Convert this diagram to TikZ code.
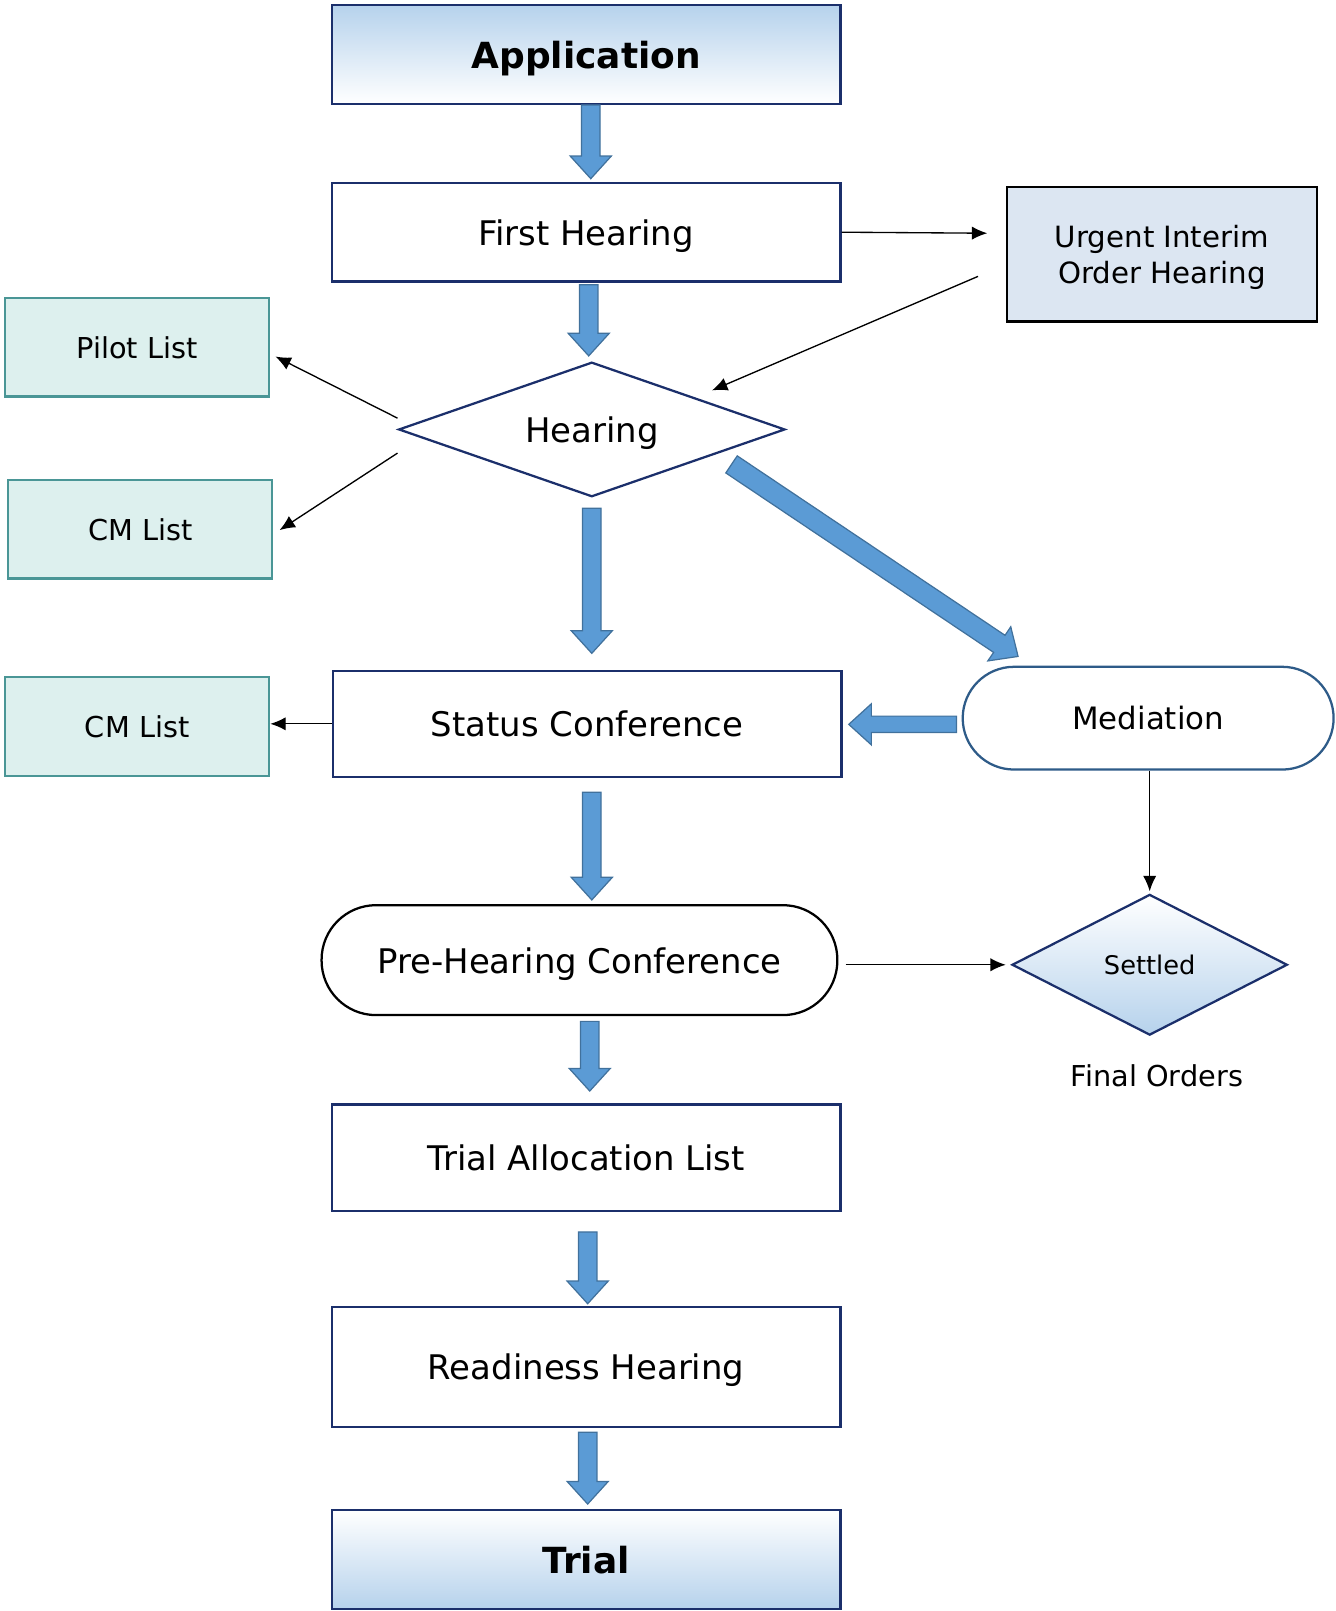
\documentclass[tikz,border=0pt]{standalone}
\usepackage{fontspec}
\setmainfont{DejaVu Sans}
\usetikzlibrary{shapes.geometric,arrows.meta,calc}
\definecolor{navyb}{HTML}{1B2F6B}
\definecolor{tealf}{HTML}{DDF0EE}
\definecolor{tealb}{HTML}{4A9696}
\definecolor{urgf}{HTML}{DCE6F2}
\definecolor{medb}{HTML}{2E5B88}
\definecolor{baf}{HTML}{5B9BD5}
\definecolor{bab}{HTML}{41719C}
\definecolor{gradb}{HTML}{B6D2EC}
\newcommand{\fs}[1]{\fontsize{#1pt}{\dimexpr #1pt*12/10\relax}\selectfont}
\newcommand{\blockarrow}[3][9pt]{%
  \coordinate (ba-h) at ($(#3)!22pt!(#2)$);
  \draw[blockarr] ($(#2)!#1!90:(#3)$) -- ($(ba-h)!#1!90:(#3)$) -- ($(ba-h)!20pt!90:(#3)$) -- (#3)
    -- ($(ba-h)!20pt!-90:(#3)$) -- ($(ba-h)!#1!-90:(#3)$) -- ($(#2)!#1!-90:(#3)$) -- cycle;}
\begin{document}
\begin{tikzpicture}[x=1pt,y=-1pt,
  every node/.append style={text depth=0pt},
  mainbox/.style={draw=navyb,line width=2.2pt,fill=white,rectangle,minimum width=495pt,inner sep=0pt,font=\fs{33}},
  tealbox/.style={draw=tealb,line width=2.2pt,fill=tealf,rectangle,minimum width=257pt,minimum height=96pt,inner sep=0pt,font=\fs{28}},
  stadium/.style={rectangle,fill=white,inner sep=0pt},
  blockarr/.style={fill=baf,draw=bab,line width=1.2pt,line join=miter},
  thinarr/.style={draw=black,line width=1.3pt,-{Latex[length=15pt,width=13pt]}}]
\useasboundingbox (0,0) rectangle (1300,1568);

% nodes
\node[mainbox,minimum height=96pt,top color=gradb,bottom color=white,font=\fs{35}\bfseries] (app) at (570.5,53) {Application};
\node[mainbox,minimum height=96pt] (first) at (570.5,226) {First Hearing};
\node[draw=black,line width=2.2pt,fill=urgf,minimum width=302pt,minimum height=131pt,inner sep=0pt,align=center,font=\fs{28.5}] (urgent) at (1131,247.5) {Urgent Interim\\[1pt]Order Hearing};
\node[diamond,draw=navyb,line width=2.2pt,fill=white,minimum width=376pt,minimum height=131pt,aspect=2.87,inner sep=0pt,font=\fs{33}] (hearing) at (576,418) {Hearing};
\node[tealbox] (pilot) at (133.5,338) {Pilot List};
\node[tealbox] (cm1) at (136.5,515) {CM List};
\node[tealbox] (cm2) at (133.5,707) {CM List};
\node[mainbox,minimum height=103pt] (status) at (571.5,704.5) {Status Conference};
\node[stadium,draw=medb,line width=2.2pt,rounded corners=50pt,minimum width=361pt,minimum height=100pt,font=\fs{30}] (mediation) at (1117.5,699) {Mediation};
\node[stadium,draw=black,line width=2.2pt,rounded corners=53pt,minimum width=502pt,minimum height=107pt,font=\fs{33}] (prehearing) at (564,934.5) {Pre-Hearing Conference};
\node[diamond,draw=navyb,line width=2.2pt,top color=white,bottom color=gradb,minimum width=268pt,minimum height=137pt,aspect=1.96,inner sep=0pt,font=\fs{25}] (settled) at (1119,939) {Settled};
\node[font=\fs{28}] (final) at (1126,1047) {Final Orders};
\node[mainbox,minimum height=104pt] (alloc) at (570.5,1127) {Trial Allocation List};
\node[mainbox,minimum height=117pt] (ready) at (570.5,1330.5) {Readiness Hearing};
\node[mainbox,minimum height=96pt,top color=white,bottom color=gradb,font=\fs{35}\bfseries] (trial) at (570.5,1518) {Trial};

% block arrows
\coordinate (b1s) at ($(app.south)+(4.5,0)$);
\coordinate (b1e) at ($(first.north)+(4.5,-3)$);
\blockarrow{b1s}{b1e}
\coordinate (b2s) at ($(first.south)+(2.5,2)$);
\coordinate (b2e) at ($(hearing.north)+(-3,-5)$);
\blockarrow{b2s}{b2e}
\coordinate (b3s) at ($(hearing.south)+(0,10)$);
\coordinate (b3e) at ($(status.north)+(4.5,-16)$);
\blockarrow{b3s}{b3e}
\coordinate (b4s) at (712,452);
\coordinate (b4e) at ($(mediation.north west)+(55,-9)$);
\blockarrow[10pt]{b4s}{b4e}
\coordinate (b5s) at ($(mediation.west)+(-5,6)$);
\coordinate (b5e) at ($(status.east)+(6,0.5)$);
\blockarrow[8pt]{b5s}{b5e}
\coordinate (b6s) at ($(status.south)+(4.5,14)$);
\coordinate (b6e) at ($(prehearing.north)+(12,-4)$);
\blockarrow{b6s}{b6e}
\coordinate (b7s) at ($(prehearing.south)+(10,5)$);
\coordinate (b7e) at ($(alloc.north)+(3.5,-12)$);
\blockarrow{b7s}{b7e}
\coordinate (b8s) at ($(alloc.south)+(1.5,19)$);
\coordinate (b8e) at ($(ready.north)+(1.5,-2)$);
\blockarrow{b8s}{b8e}
\coordinate (b9s) at ($(ready.south)+(1.5,4)$);
\coordinate (b9e) at ($(trial.north)+(1.5,-5)$);
\blockarrow{b9s}{b9e}

% thin arrows
\coordinate (t1e) at ($(urgent.west)+(-18,-20.5)$);
\draw[thinarr] (first.east) -- (t1e);
\coordinate (t2s) at ($(urgent.west)+(-27,21.5)$);
\coordinate (t2e) at (693,380);
\draw[thinarr] (t2s) -- (t2e);
\coordinate (t3s) at ($(hearing.west)+(0,-11)$);
\coordinate (t3e) at ($(pilot.east)+(5,9)$);
\draw[thinarr] (t3s) -- (t3e);
\coordinate (t4s) at ($(hearing.west)+(0,23)$);
\coordinate (t4e) at ($(cm1.east)+(6,1)$);
\draw[thinarr] (t4s) -- (t4e);
\coordinate (t5e) at (status.west -| cm2.east);
\draw[thinarr] (status.west) -- (t5e);
\draw[thinarr] ($(mediation.south)+(1.5,0)$) -- ($(settled.north)+(0,-2)$);
\coordinate (t7s) at ($(prehearing.east)+(7,4.5)$);
\coordinate (t7e) at ($(settled.west)+(-5,0)$);
\draw[thinarr] (t7s) -- (t7e);
\end{tikzpicture}
\end{document}
